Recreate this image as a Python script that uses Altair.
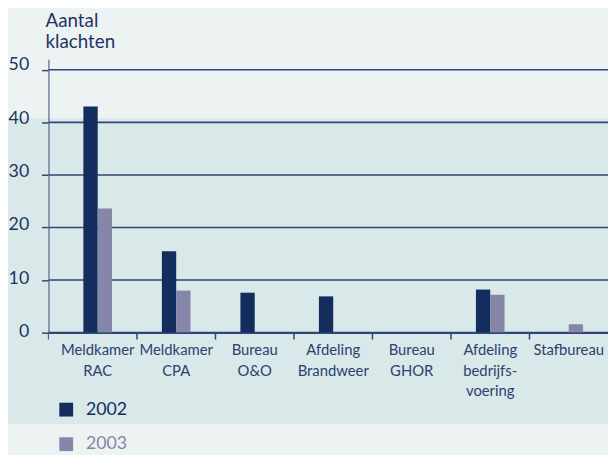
import altair as alt
import pandas as pd

categories = ["Meldkamer RAC", "Meldkamer CPA", "Bureau O&O", "Afdeling Brandweer",
              "Bureau GHOR", "Afdeling bedrijfs- voering", "Stafbureau"]
years = ["2002", "2003"]
v2002 = [43.0, 15.5, 7.6, 6.9, 0.0, 8.2, 0.0]
v2003 = [23.6, 8.0, 0.0, 0.0, 0.0, 7.2, 1.6]
y_ticks = [0, 10, 20, 30, 40, 50]
title_lines = ["Aantal", "klachten"]

NAVY = "#142d5f"
LILAC = "#8686a8"
BG = "#edf3f3"
BAND = "#d9e8e8"
GRID = "#2f4676"
TXT = "#1f3462"

rows = []
for c, a, b in zip(categories, v2002, v2003):
    rows.append({"cat": c, "year": "2002", "v": a})
    rows.append({"cat": c, "year": "2003", "v": b})
df = pd.DataFrame(rows)

yscale = alt.Scale(domain=[0, 52], nice=False, zero=True)
xscale = alt.Scale(domain=categories, paddingInner=0, paddingOuter=0.0635, align=1)
yaxis = alt.Axis(title=None, values=y_ticks, grid=False, labelFontSize=18,
                 labelColor=TXT, labelPadding=13, labelBaseline="middle",
                 labelOffset={"expr": "-1 - datum.value * 0.08"},
                 tickSize=7, tickColor=GRID, tickWidth=1.5,
                 domainColor="#55648a", domainWidth=1.2, zindex=1)
xaxis = alt.Axis(title=None, labelAngle=0, labelExpr="split(datum.label, ' ')",
                 labelFontSize=15, labelColor="#2c4170", labelLineHeight=21,
                 labelPadding=10, labelBaseline="top", labelAlign="center",
                 ticks=False, domainColor=GRID, domainWidth=1.5, grid=False, zindex=1)

band = alt.Chart(pd.DataFrame({"a": [0]})).mark_rect(color=BAND, clip=False).encode(
    x=alt.value(-60), x2=alt.value(700), y=alt.value(59.7), y2=alt.value(369.7)
)

grid = alt.Chart(pd.DataFrame({"g": y_ticks})).mark_rule(color=GRID, strokeWidth=1.6).encode(
    y=alt.Y("g:Q", scale=yscale, axis=yaxis)
)

# separators below the axis at band boundaries (between categories)
seps = alt.Chart(pd.DataFrame({"cat": categories[1:]})).mark_rule(
    color=GRID, strokeWidth=1.5, clip=False
).encode(
    x=alt.X("cat:N", scale=xscale, axis=xaxis, bandPosition=0),
    y=alt.value(277), y2=alt.value(284)
)
origin_tick = alt.Chart(pd.DataFrame({"a": [0]})).mark_rule(
    color="#55648a", strokeWidth=1.2, clip=False
).encode(x=alt.value(0), y=alt.value(277), y2=alt.value(284))

bars = alt.Chart(df).mark_bar().encode(
    x=alt.X("cat:N", scale=xscale, axis=xaxis),
    xOffset=alt.XOffset("year:N", scale=alt.Scale(domain=years, range=[25.28, 54.28],
                                                  paddingInner=0, paddingOuter=0)),
    y=alt.Y("v:Q", scale=yscale, axis=yaxis),
    color=alt.Color("year:N", scale=alt.Scale(domain=years, range=[NAVY, LILAC]),
                    legend=alt.Legend(title=None, orient="none", legendX=9, legendY=346,
                                      symbolType="square", symbolSize=196,
                                      symbolStrokeWidth=0, symbolOpacity=1,
                                      labelFontSize=18, labelOffset=11, rowPadding=17,
                                      padding=0,
                                      labelColor={"expr": "datum.label == '2002' ? '#142d5f' : '#8686a8'"})),
)

title = alt.Chart(pd.DataFrame({"a": [0]})).mark_text(
    align="left", baseline="alphabetic", fontSize=19, lineHeight=22, color=TXT
).encode(x=alt.value(-3), y=alt.value(-33), text=alt.value(title_lines))

chart = alt.layer(band, grid, seps, origin_tick, bars, title).properties(
    width=567, height=277,
    autosize=alt.AutoSizeParams(type="none"),
    padding={"left": 41, "top": 49, "right": 0, "bottom": 121},
    background=BG,
).configure(font="Lato").configure_view(strokeWidth=0)

chart.save("out.html", embed_options={"renderer": "svg", "actions": False})
